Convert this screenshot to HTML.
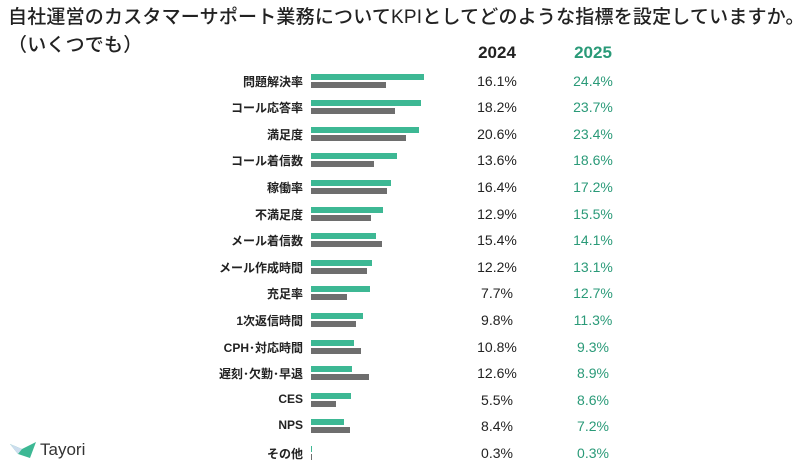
<!DOCTYPE html>
<html><head><meta charset="utf-8"><style>
body{margin:0;width:800px;height:471px;background:#fff;position:relative;overflow:hidden;font-family:"Liberation Sans","Noto Sans CJK JP",sans-serif;color:#222}
.t{position:absolute;left:8px;font-size:19px;letter-spacing:0.2px;white-space:nowrap;font-weight:500}
.h{position:absolute;top:43px;font-size:17px;font-weight:bold;width:80px;text-align:center}
.l{position:absolute;right:497px;font-size:12px;font-weight:bold;white-space:nowrap}
.v{position:absolute;font-size:14px;width:80px;text-align:center}
.g{position:absolute;left:311px;height:6px;background:#3db894}
.k{position:absolute;left:311px;height:6px;background:#6e6e6e}
</style></head><body>
<div class="t" style="top:2px">自社運営のカスタマーサポート業務についてKPIとしてどのような指標を設定していますか。</div>
<div class="t" style="top:30px">（いくつでも）</div>
<div class="h" style="left:457px">2024</div>
<div class="h" style="left:553px;color:#2a9a78">2025</div>
<div id="rows"></div>
<svg style="position:absolute;left:8px;top:440px" width="30" height="22"><polygon points="2,4 14,9 28,2 22,18 10,14" fill="#3db894"/><polygon points="2,4 14,9 10,14" fill="#cde"/></svg>
<div style="position:absolute;left:40px;top:440px;font-size:17px;color:#333">Tayori</div>
<script>
var d=[["問題解決率",16.1,24.4],["コール応答率",18.2,23.7],["満足度",20.6,23.4],["コール着信数",13.6,18.6],["稼働率",16.4,17.2],["不満足度",12.9,15.5],["メール着信数",15.4,14.1],["メール作成時間",12.2,13.1],["充足率",7.7,12.7],["1次返信時間",9.8,11.3],["CPH･対応時間",10.8,9.3],["遅刻･欠勤･早退",12.6,8.9],["CES",5.5,8.6],["NPS",8.4,7.2],["その他",0.3,0.3]];
var h="";d.forEach(function(r,i){var c=80.5+i*26.6;
h+='<div class="l" style="top:'+(c-8)+'px">'+r[0]+'</div>';
h+='<div class="g" style="top:'+(c-7)+'px;width:'+Math.max(1,r[2]*4.63)+'px"></div>';
h+='<div class="k" style="top:'+(c+1)+'px;width:'+Math.max(1,r[1]*4.63)+'px"></div>';
h+='<div class="v" style="left:457px;top:'+(c-8)+'px">'+r[1].toFixed(1)+'%</div>';
h+='<div class="v" style="left:553px;top:'+(c-8)+'px;color:#2a9a78">'+r[2].toFixed(1)+'%</div>';});
document.getElementById("rows").innerHTML=h;
</script>
</body></html>
